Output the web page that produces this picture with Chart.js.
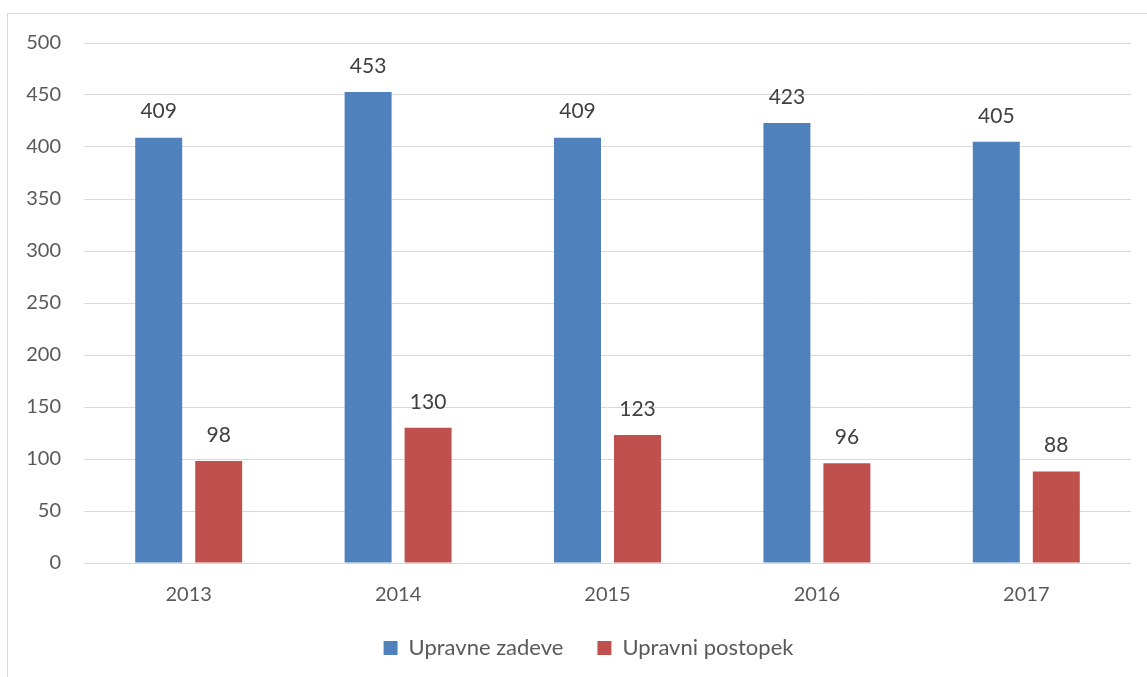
<!DOCTYPE html>
<html>
<head>
<meta charset="utf-8">
<script src="https://cdn.jsdelivr.net/npm/chart.js@4.4.0/dist/chart.umd.min.js"></script>
<style>
  html, body { margin: 0; padding: 0; background: #fff; overflow: hidden; }
  #wrap { position: relative; width: 1147px; height: 677px; overflow: hidden; }
  #frame { position: absolute; left: 7px; top: 13px; width: 1200px; height: 700px; border: 1px solid #d9d9d9; box-sizing: border-box; }
  canvas { position: absolute; left: 0; top: 0; }
</style>
</head>
<body>
<div id="wrap">
  <div id="frame"></div>
  <canvas id="chart" width="1147" height="677"></canvas>
</div>
<script>
const years = ['2013', '2014', '2015', '2016', '2017'];
const zadeve = [409, 453, 409, 423, 405];
const postopek = [98, 130, 123, 96, 88];
const yTicks = [0, 50, 100, 150, 200, 250, 300, 350, 400, 450, 500];

const FONT = 'Lato, "Noto Sans", sans-serif';

// data labels above each bar
const barLabels = {
    id: 'barLabels',
    afterDatasetsDraw(chart) {
        const ctx = chart.ctx;
        ctx.save();
        ctx.font = '21px ' + FONT;
        ctx.fillStyle = '#404040';
        ctx.textAlign = 'center';
        ctx.textBaseline = 'middle';
        chart.data.datasets.forEach((ds, i) => {
            chart.getDatasetMeta(i).data.forEach((bar, j) => {
                ctx.fillText(ds.data[j], bar.x, bar.y - 26);
            });
        });
        ctx.restore();
    }
};

// legend in the reference is centred a bit right of the canvas middle
const legendShift = {
    id: 'legendShift',
    beforeDraw(chart) {
        const lg = chart.legend;
        lg.left = 46;
        lg.right = chart.chartArea.right;
        lg.width = lg.right - lg.left;
    }
};

new Chart(document.getElementById('chart'), {
    type: 'bar',
    data: {
        labels: years,
        datasets: [
            { label: 'Upravne zadeve', data: zadeve, backgroundColor: '#4F81BD',
              categoryPercentage: 0.573, barPercentage: 0.783 },
            { label: 'Upravni postopek', data: postopek, backgroundColor: '#C0504D',
              categoryPercentage: 0.573, barPercentage: 0.783 }
        ]
    },
    options: {
        responsive: false,
        animation: false,
        layout: { padding: { top: 43, right: 16, left: 0, bottom: 8 } },
        scales: {
            y: {
                min: 0,
                max: 500,
                afterBuildTicks: s => { s.ticks = yTicks.map(v => ({ value: v })); },
                afterFit: s => { s.width = 84; },
                border: { display: false },
                grid: { color: '#d9d9d9', lineWidth: 1, drawTicks: false },
                ticks: { padding: 23, color: '#595959', font: { size: 20, family: FONT } }
            },
            x: {
                afterFit: s => { s.height = 40; },
                border: { display: false },
                grid: { display: false },
                ticks: { padding: 12, color: '#595959', font: { size: 20, family: FONT } }
            }
        },
        plugins: {
            legend: {
                position: 'bottom',
                labels: {
                    boxWidth: 14,
                    boxHeight: 14,
                    padding: 34,
                    color: '#595959',
                    font: { size: 22, family: FONT }
                }
            },
            tooltip: { enabled: false }
        }
    },
    plugins: [barLabels, legendShift]
});
</script>
</body>
</html>
